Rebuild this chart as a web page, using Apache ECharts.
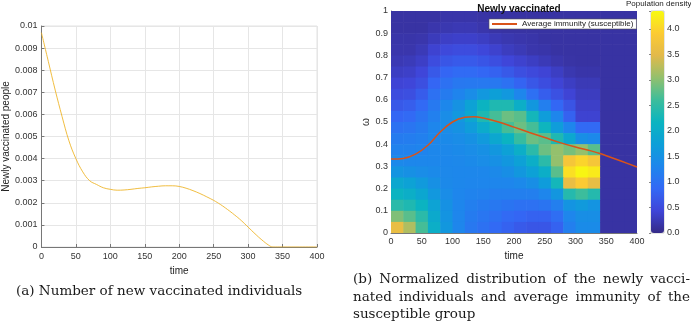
<!DOCTYPE html>
<html>
<head>
<meta charset="utf-8">
<script src="https://cdn.jsdelivr.net/npm/echarts@6/dist/echarts.min.js"></script>
<style>
  html, body { margin: 0; padding: 0; background: #fff; }
  #chart { width: 691px; height: 322px; }
</style>
</head>
<body>
<div id="chart"></div>
<script>
// (a) newly vaccinated people over time
var vaccTime = [0, 10, 20, 30, 40, 50, 60, 70, 80, 90, 100, 110, 120, 130, 140, 150, 160, 170, 180, 190,
    200, 210, 220, 230, 240, 250, 260, 270, 280, 290, 300, 310, 320, 330, 336, 350, 375, 400];
var vaccPeople = [0.0097, 0.0084, 0.0071, 0.0059, 0.0048, 0.0040, 0.0034, 0.0030, 0.00283, 0.00268,
    0.00261, 0.00257, 0.00258, 0.00261, 0.00265, 0.00268, 0.00272, 0.00275, 0.00277, 0.00277,
    0.00274, 0.00266, 0.00255, 0.00242, 0.00227, 0.00211, 0.00192, 0.00170, 0.00146, 0.00120,
    0.00090, 0.00060, 0.00032, 0.00008, 0, 0, 0, 0];

// (b) density of newly vaccinated, columns = time cell centres, rows = omega cell centres (top to bottom)
var cellTimes = [10, 30, 50, 70, 90, 110, 130, 150, 170, 190, 210, 230, 250, 270, 290, 310, 330, 350, 370, 390];
var cellOmegas = [0.975, 0.925, 0.875, 0.825, 0.775, 0.725, 0.675, 0.625, 0.575, 0.525,
    0.475, 0.425, 0.375, 0.325, 0.275, 0.225, 0.175, 0.125, 0.075, 0.025];
var density = [
    [0.15, 0.15, 0.15, 0.15, 0.18, 0.18, 0.18, 0.16, 0.15, 0.15, 0.15, 0.15, 0.15, 0.15, 0.15, 0.15, 0.15, 0.15, 0.15, 0.15],
    [0.15, 0.15, 0.15, 0.2, 0.22, 0.24, 0.24, 0.2, 0.16, 0.15, 0.15, 0.15, 0.15, 0.15, 0.15, 0.15, 0.15, 0.15, 0.15, 0.15],
    [0.18, 0.18, 0.2, 0.28, 0.34, 0.36, 0.36, 0.32, 0.26, 0.22, 0.2, 0.18, 0.15, 0.15, 0.15, 0.15, 0.15, 0.15, 0.15, 0.15],
    [0.2, 0.2, 0.26, 0.4, 0.48, 0.52, 0.52, 0.46, 0.38, 0.3, 0.25, 0.2, 0.18, 0.15, 0.15, 0.15, 0.15, 0.15, 0.15, 0.15],
    [0.24, 0.27, 0.34, 0.52, 0.65, 0.7, 0.7, 0.64, 0.55, 0.45, 0.38, 0.32, 0.26, 0.2, 0.16, 0.15, 0.15, 0.15, 0.15, 0.15],
    [0.32, 0.35, 0.45, 0.68, 0.85, 0.92, 0.92, 0.86, 0.8, 0.68, 0.56, 0.48, 0.42, 0.32, 0.22, 0.18, 0.18, 0.15, 0.15, 0.15],
    [0.42, 0.45, 0.56, 0.85, 1.0, 1.1, 1.12, 1.12, 1.1, 1.0, 0.82, 0.66, 0.54, 0.42, 0.32, 0.25, 0.25, 0.15, 0.15, 0.15],
    [0.52, 0.56, 0.72, 1.0, 1.15, 1.28, 1.42, 1.62, 1.75, 1.62, 1.3, 0.98, 0.75, 0.58, 0.42, 0.3, 0.3, 0.15, 0.15, 0.15],
    [0.68, 0.74, 0.9, 1.12, 1.32, 1.52, 1.8, 2.15, 2.35, 2.35, 2.05, 1.6, 1.2, 0.86, 0.62, 0.35, 0.35, 0.15, 0.15, 0.15],
    [0.85, 0.9, 1.05, 1.22, 1.42, 1.62, 1.9, 2.35, 2.65, 2.85, 2.75, 2.25, 1.7, 1.3, 0.8, 0.4, 0.4, 0.15, 0.15, 0.15],
    [1.02, 1.06, 1.15, 1.3, 1.42, 1.52, 1.7, 1.98, 2.25, 2.65, 2.85, 2.65, 2.2, 1.7, 1.3, 0.9, 0.9, 0.15, 0.15, 0.15],
    [1.15, 1.18, 1.22, 1.32, 1.38, 1.42, 1.5, 1.65, 1.9, 2.15, 2.55, 2.85, 2.75, 2.35, 1.9, 1.45, 1.35, 0.15, 0.15, 0.15],
    [1.25, 1.25, 1.28, 1.32, 1.34, 1.38, 1.42, 1.48, 1.6, 1.78, 2.05, 2.45, 2.85, 3.05, 2.9, 3.05, 2.75, 0.15, 0.15, 0.15],
    [1.35, 1.32, 1.32, 1.32, 1.32, 1.34, 1.38, 1.42, 1.48, 1.6, 1.78, 2.05, 2.45, 3.05, 3.8, 4.0, 3.8, 0.15, 0.15, 0.15],
    [1.55, 1.48, 1.42, 1.38, 1.34, 1.32, 1.32, 1.32, 1.36, 1.45, 1.6, 1.78, 2.05, 2.75, 4.1, 4.3, 4.2, 0.15, 0.15, 0.15],
    [1.9, 1.8, 1.65, 1.48, 1.36, 1.32, 1.3, 1.3, 1.3, 1.3, 1.35, 1.45, 1.68, 2.25, 3.6, 3.9, 3.6, 0.15, 0.15, 0.15],
    [2.15, 2.05, 1.88, 1.62, 1.42, 1.3, 1.26, 1.25, 1.2, 1.2, 1.2, 1.2, 1.3, 1.58, 2.4, 2.6, 2.4, 0.15, 0.15, 0.15],
    [2.45, 2.35, 2.15, 1.82, 1.5, 1.3, 1.2, 1.15, 1.1, 1.05, 1.0, 1.0, 1.05, 1.2, 1.55, 1.65, 1.55, 0.15, 0.15, 0.15],
    [2.95, 2.75, 2.45, 1.95, 1.55, 1.3, 1.15, 1.08, 1.0, 0.9, 0.85, 0.8, 0.8, 0.95, 1.3, 1.45, 1.45, 0.15, 0.15, 0.15],
    [3.6, 3.2, 2.65, 2.05, 1.6, 1.3, 1.1, 1.0, 0.9, 0.8, 0.7, 0.65, 0.65, 0.8, 1.2, 1.4, 1.4, 0.15, 0.15, 0.15]
];
var densityMax = 4.35;

// (b) average immunity of the susceptible group
var immunityTime = [0, 20, 40, 60, 80, 100, 120, 135, 150, 175, 200, 225, 250, 275, 300, 325, 337, 350, 375, 400];
var immunityValue = [0.333, 0.336, 0.355, 0.395, 0.455, 0.5, 0.521, 0.524, 0.518, 0.5, 0.477, 0.453,
    0.43, 0.407, 0.387, 0.37, 0.36, 0.348, 0.323, 0.297];

var parula = ['#352A87', '#3F45D8', '#3368F5', '#1E86EC', '#0D9FD8', '#0BB4C0',
    '#3DBD9B', '#93C06D', '#E2B94B', '#FCCB33', '#F8FA0F'];

var captionA = '(a) Number of new vaccinated individuals';
var captionB = ['(b) Normalized distribution of the newly vacci-',
    'nated individuals and average immunity of the',
    'susceptible group'];

var cellT = 20, cellW = 0.05;
var font = 'Liberation Sans, Arial, sans-serif';
var serif = 'DejaVu Serif, serif';
var captionSize = 13.5;

var vaccData = vaccTime.map(function (t, i) { return [t, vaccPeople[i]]; });
var immunityData = immunityTime.map(function (t, i) { return [t, immunityValue[i]]; });
var cells = [];
cellOmegas.forEach(function (w, r) {
    cellTimes.forEach(function (t, c) {
        cells.push([t, w, density[r][c]]);
    });
});

function renderCell(params, api) {
    var t = api.value(0), w = api.value(1);
    var p0 = api.coord([t - cellT / 2, w + cellW / 2]);
    var p1 = api.coord([t + cellT / 2, w - cellW / 2]);
    return {
        type: 'rect',
        shape: { x: p0[0], y: p0[1], width: p1[0] - p0[0] + 0.6, height: p1[1] - p0[1] + 0.6 },
        style: { fill: api.visual('color') }
    };
}

// caption lines; the first two lines of (b) are justified like the LaTeX source
var measureCtx = document.createElement('canvas').getContext('2d');
function captionLine(text, left, midY, right) {
    measureCtx.font = captionSize + 'px ' + serif;
    var words = text.split(' ');
    var st = function (w) {
        return { text: w, fontSize: captionSize, fill: '#1a1a1a', fontFamily: serif, verticalAlign: 'middle' };
    };
    if (!right) {
        return [{ type: 'text', x: left, y: midY, style: st(text) }];
    }
    var widths = words.map(function (w) { return measureCtx.measureText(w).width; });
    var total = widths.reduce(function (a, b) { return a + b; }, 0);
    var gap = (right - left - total) / (words.length - 1);
    var x = left, out = [];
    words.forEach(function (w, i) {
        out.push({ type: 'text', x: x, y: midY, style: st(w) });
        x += widths[i] + gap;
    });
    return out;
}

var tickLabel = { color: '#333', fontSize: 9, fontFamily: font };
var nameStyle = { color: '#222', fontSize: 10, fontFamily: font };

var graphics = [
    { type: 'text', left: 626, top: 0, style: { text: 'Population density', fontSize: 8, fill: '#222', fontFamily: font } }
];
graphics = graphics.concat(captionLine(captionA, 16, 291));
graphics = graphics.concat(captionLine(captionB[0], 353, 279, 690));
graphics = graphics.concat(captionLine(captionB[1], 353, 297, 690));
graphics = graphics.concat(captionLine(captionB[2], 353, 314));

var chart = echarts.init(document.getElementById('chart'));
chart.setOption({
    animation: false,
    title: {
        text: 'Newly vaccinated',
        left: 514, top: -1, textAlign: 'center',
        textStyle: { fontSize: 10, fontWeight: 'bold', color: '#111', fontFamily: font }
    },
    legend: {
        left: 489, top: 19,
        padding: [1, 3],
        itemWidth: 25, itemHeight: 2, itemGap: 4,
        backgroundColor: '#fff', borderColor: '#555', borderWidth: 0.6,
        data: [{ name: 'Average immunity (susceptible)', icon: 'rect' }],
        textStyle: { fontSize: 8, color: '#222', fontFamily: font }
    },
    grid: [
        { left: 38, top: 26, width: 279, height: 221, show: true, borderColor: '#e2e2e2', borderWidth: 1 },
        { left: 391, top: 11, width: 246, height: 222 },
        { left: 651, top: 11, width: 13, height: 222, show: true, borderColor: '#aaa', borderWidth: 0.6 }
    ],
    xAxis: [
        {
            gridIndex: 0, type: 'value', min: 0, max: 400, interval: 50,
            name: 'time', nameLocation: 'middle', nameGap: 16, nameTextStyle: nameStyle,
            axisLine: { lineStyle: { color: '#777' } },
            axisTick: { inside: true, length: 3, lineStyle: { color: '#777' } },
            axisLabel: Object.assign({ margin: 5 }, tickLabel),
            splitLine: { lineStyle: { color: '#e6e6e6' } }
        },
        {
            gridIndex: 1, type: 'value', min: 0, max: 400, interval: 50,
            name: 'time', nameLocation: 'middle', nameGap: 17, nameTextStyle: nameStyle,
            axisLine: { lineStyle: { color: '#777' } },
            axisTick: { show: false },
            axisLabel: Object.assign({ margin: 4 }, tickLabel),
            splitLine: { show: false }
        },
        { gridIndex: 2, type: 'value', show: false, min: 0, max: 1 }
    ],
    yAxis: [
        {
            gridIndex: 0, type: 'value', min: 0, max: 0.01, interval: 0.001,
            name: 'Newly vaccinated people', nameLocation: 'middle', nameGap: 28, nameTextStyle: nameStyle,
            axisLine: { show: true, lineStyle: { color: '#777' } },
            axisTick: { show: true, inside: true, length: 3, lineStyle: { color: '#777' } },
            axisLabel: Object.assign({ margin: 4, formatter: function (v) { return +v.toFixed(3) + ''; } }, tickLabel),
            splitLine: { lineStyle: { color: '#e6e6e6' } }
        },
        {
            gridIndex: 1, type: 'value', min: 0, max: 1, interval: 0.1,
            name: 'ω', nameLocation: 'middle', nameGap: 20, nameTextStyle: nameStyle,
            axisLine: { show: true, lineStyle: { color: '#777' } },
            axisTick: { show: false },
            axisLabel: Object.assign({ margin: 3, formatter: function (v) { return +v.toFixed(1) + ''; } }, tickLabel),
            splitLine: { show: false }
        },
        {
            gridIndex: 2, type: 'value', min: 0, max: densityMax, interval: 0.5, position: 'right',
            axisLine: { show: false },
            axisTick: { show: true, inside: true, length: 2, lineStyle: { color: '#888' } },
            axisLabel: Object.assign({ margin: 3, formatter: function (v) { return v > 4.01 ? '' : v.toFixed(1); } }, tickLabel),
            splitLine: { show: false }
        }
    ],
    visualMap: {
        type: 'continuous',
        seriesIndex: 1, dimension: 2,
        min: 0, max: densityMax,
        calculable: false, hoverLink: false,
        left: 651, top: 11, padding: 0,
        itemWidth: 13, itemHeight: 222,
        text: null, showLabel: false,
        inRange: { color: parula }
    },
    graphic: graphics,
    series: [
        {
            type: 'line', xAxisIndex: 0, yAxisIndex: 0,
            data: vaccData, smooth: 0.4, symbol: 'none',
            lineStyle: { color: '#EDB120', width: 1, opacity: 0.85 }
        },
        {
            type: 'custom', xAxisIndex: 1, yAxisIndex: 1,
            renderItem: renderCell, data: cells, clip: true, z: 1,
            encode: { x: 0, y: 1 }
        },
        {
            type: 'line', name: 'Average immunity (susceptible)', xAxisIndex: 1, yAxisIndex: 1,
            data: immunityData, smooth: 0.4, symbol: 'none', z: 5,
            color: '#D95319',
            lineStyle: { color: '#D95319', width: 1.5 }
        }
    ]
});
</script>
</body>
</html>
